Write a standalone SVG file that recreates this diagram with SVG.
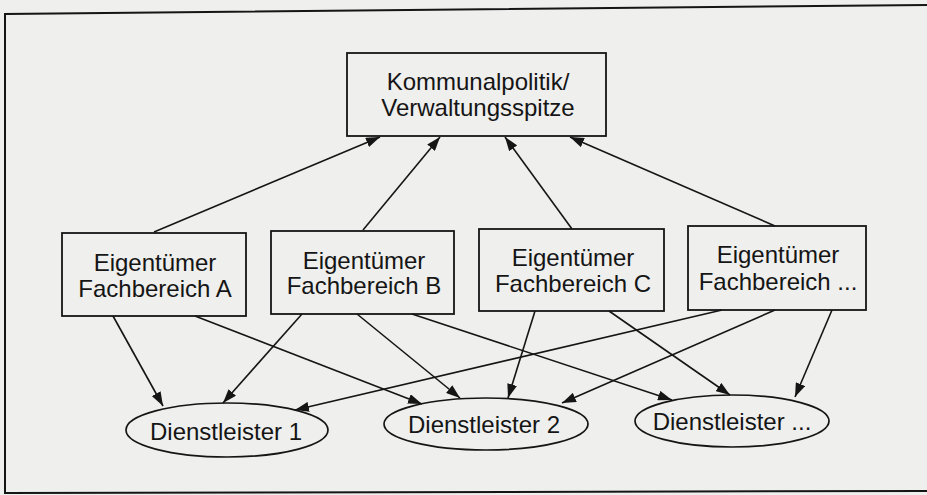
<svg xmlns="http://www.w3.org/2000/svg" width="927" height="495" viewBox="0 0 927 495">
<style>
.bg{fill:#efefed}
.box{fill:#efefed;stroke:#151515;stroke-width:1.8}
.ell{fill:#efefed;stroke:#151515;stroke-width:1.7}
.frame{fill:none;stroke:#151515;stroke-width:2}
.t{font-family:"Liberation Sans",Arial,sans-serif;font-size:24px;fill:#151515;text-anchor:middle}
.c line{stroke:#151515;stroke-width:1.6;marker-end:url(#ah)}
</style>
<defs>
<marker id="ah" viewBox="0 0 14 10" refX="14" refY="5" markerWidth="14" markerHeight="10" markerUnits="userSpaceOnUse" orient="auto">
<path d="M0,0 L14,5 L0,10 z" fill="#151515"/>
</marker>
</defs>
<rect class="bg" x="0" y="0" width="927" height="495"/>
<path class="frame" d="M927,5 L5,14 L5,493 L927,491"/>
<g id="top">
<rect class="box" x="347" y="53" width="259" height="83"/>
<text class="t" x="478" y="90">Kommunalpolitik/</text>
<text class="t" x="478" y="116">Verwaltungsspitze</text>
</g>
<g id="fbA">
<rect class="box" x="62" y="233" width="184" height="83"/>
<text class="t" x="155" y="271">Eigentümer</text>
<text class="t" x="155" y="297">Fachbereich A</text>
</g>
<g id="fbB">
<rect class="box" x="271" y="231" width="183" height="83"/>
<text class="t" x="364" y="269">Eigentümer</text>
<text class="t" x="364" y="294">Fachbereich B</text>
</g>
<g id="fbC">
<rect class="box" x="479" y="229" width="185" height="82"/>
<text class="t" x="573" y="266">Eigentümer</text>
<text class="t" x="573" y="292">Fachbereich C</text>
</g>
<g id="fbD">
<rect class="box" x="688" y="226" width="178" height="84"/>
<text class="t" x="778" y="263">Eigentümer</text>
<text class="t" x="778" y="290">Fachbereich ...</text>
</g>
<g id="d1">
<ellipse class="ell" cx="227" cy="430" rx="101" ry="27"/>
<text class="t" x="226" y="440">Dienstleister 1</text>
</g>
<g id="d2">
<ellipse class="ell" cx="486" cy="424" rx="102" ry="26"/>
<text class="t" x="484" y="433">Dienstleister 2</text>
</g>
<g id="d3">
<ellipse class="ell" cx="732" cy="421" rx="97" ry="26"/>
<text class="t" x="732" y="430">Dienstleister ...</text>
</g>
<g id="connectors" class="c">
<line x1="154" y1="232" x2="380" y2="137"/>
<line x1="363" y1="230" x2="440" y2="137"/>
<line x1="572" y1="229" x2="505" y2="137"/>
<line x1="775" y1="226" x2="570" y2="137"/>
<line x1="113" y1="316" x2="163" y2="406"/>
<line x1="195" y1="316" x2="422" y2="404"/>
<line x1="302" y1="314" x2="223" y2="403"/>
<line x1="357" y1="314" x2="460" y2="398"/>
<line x1="412" y1="314" x2="672" y2="400"/>
<line x1="535" y1="311" x2="508" y2="398"/>
<line x1="609" y1="311" x2="730" y2="395"/>
<line x1="722" y1="310" x2="295" y2="410"/>
<line x1="775" y1="310" x2="562" y2="403"/>
<line x1="832" y1="310" x2="795" y2="397"/>
</g>
</svg>
